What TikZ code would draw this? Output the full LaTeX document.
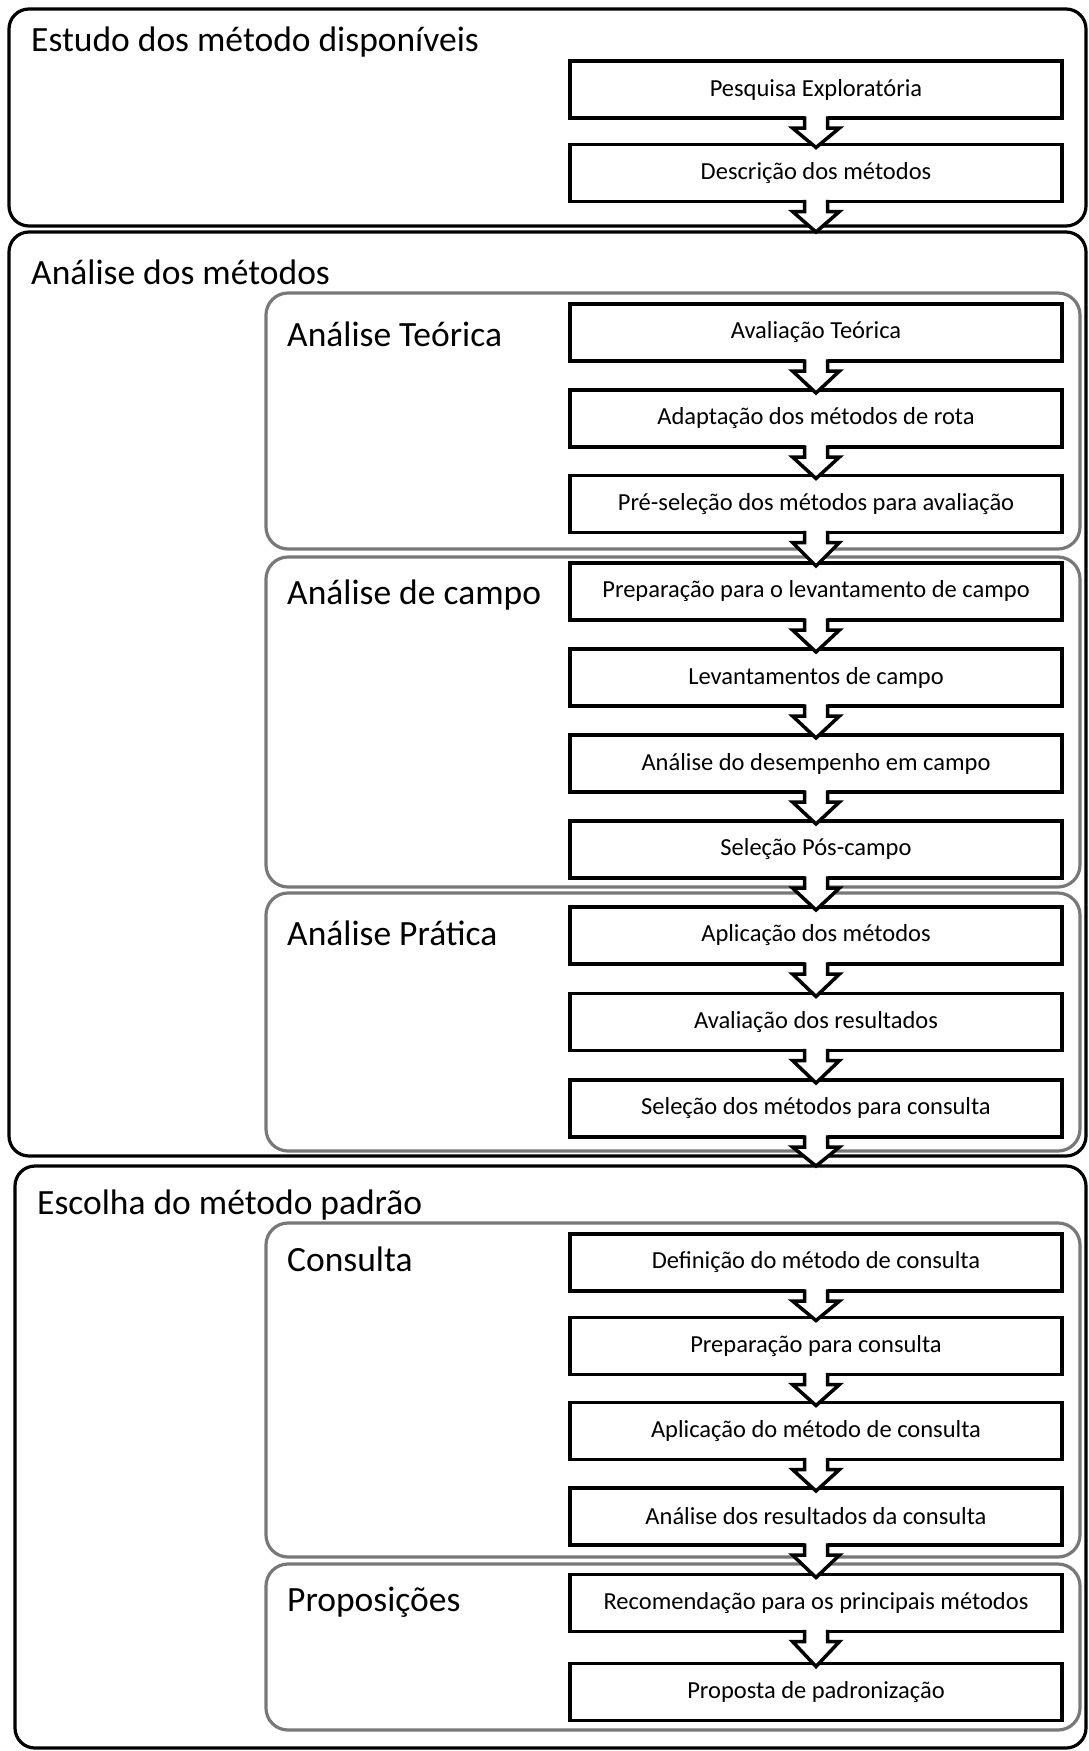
\documentclass[tikz,border=0pt]{standalone}
\usepackage{fontspec}
\setmainfont{Carlito}
\usetikzlibrary{calc}
\definecolor{framegray}{RGB}{120,120,120}
\tikzset{
  outerbox/.style={draw=black, line width=3.2pt, rounded corners=20pt},
  innerbox/.style={draw=framegray, line width=3.2pt, rounded corners=22pt},
  stepbox/.style={draw=black, fill=white, line width=3.4pt, minimum width=492pt,
    minimum height=57pt, inner sep=0pt, outer sep=0pt,
    font=\fontsize{24.5}{28}\selectfont},
  grouptitle/.style={anchor=base west, inner sep=0pt,
    font=\fontsize{35.5}{40}\selectfont},
  arrowline/.style={draw=black, line width=3.5pt, line join=miter, line cap=butt}
}
% block arrow leaving the bottom of step #1 and pointing at #2
\newcommand\flowarrow[2]{%
  \fill[white]
    ($(#1.south)+(-11.5,-1.8)$) -- ($(#1.south)+(-11.5,10)$) --
    ($(#1.south)+(-23.5,10)$) -- ($(#1.south |- #2)+(0,3)$) --
    ($(#1.south)+(23.5,10)$) -- ($(#1.south)+(11.5,10)$) --
    ($(#1.south)+(11.5,-1.8)$) -- cycle;
  \draw[arrowline]
    ($(#1.south)+(-11.5,-1.7)$) -- ($(#1.south)+(-11.5,10)$) --
    ($(#1.south)+(-23.5,10)$) -- ($(#1.south |- #2)+(0,3)$) --
    ($(#1.south)+(23.5,10)$) -- ($(#1.south)+(11.5,10)$) --
    ($(#1.south)+(11.5,-1.7)$);
}
\begin{document}
\begin{tikzpicture}[x=1pt, y=-1pt]
  \useasboundingbox (0,0) rectangle (1089,1751);

  % stage frames
  \draw[outerbox] (9,9) rectangle (1086,226);
  \draw[outerbox] (9,232) rectangle (1086,1156);
  \draw[outerbox] (15,1166) rectangle (1086,1748);
  \coordinate (o2entry) at (816,229);
  \coordinate (o3entry) at (816,1163);

  % sub-stage frames
  \draw[innerbox] (266,293) rectangle (1080,549);
  \draw[innerbox] (266,557) rectangle (1080,887);
  \draw[innerbox] (266,893) rectangle (1080,1151);
  \draw[innerbox] (266,1223) rectangle (1080,1557);
  \draw[innerbox] (266,1564) rectangle (1080,1730);

  % titles
  \node[grouptitle] (t1) at (31,51) {Estudo dos método disponíveis};
  \node[grouptitle] (t2) at (31,284) {Análise dos métodos};
  \node[grouptitle] (t3) at (287,346) {Análise Teórica};
  \node[grouptitle] (t4) at (287,604) {Análise de campo};
  \node[grouptitle] (t5) at (287,945) {Análise Prática};
  \node[grouptitle] (t6) at (37,1214) {Escolha do método padrão};
  \node[grouptitle] (t7) at (287,1271) {Consulta};
  \node[grouptitle] (t8) at (287,1611) {Proposições};

  % steps
  \node[stepbox] (s1)  at (816,89.5)   {Pesquisa Exploratória};
  \node[stepbox] (s2)  at (816,173)    {Descrição dos métodos};
  \node[stepbox] (s3)  at (816,332.5)  {Avaliação Teórica};
  \node[stepbox] (s4)  at (816,418.5)  {Adaptação dos métodos de rota};
  \node[stepbox] (s5)  at (816,504)    {Pré-seleção dos métodos para avaliação};
  \node[stepbox] (s6)  at (816,591.5)  {Preparação para o levantamento de campo};
  \node[stepbox] (s7)  at (816,677.5)  {Levantamentos de campo};
  \node[stepbox] (s8)  at (816,763.5)  {Análise do desempenho em campo};
  \node[stepbox] (s9)  at (816,849.5)  {Seleção Pós-campo};
  \node[stepbox] (s10) at (816,935.5)  {Aplicação dos métodos};
  \node[stepbox] (s11) at (816,1022)   {Avaliação dos resultados};
  \node[stepbox] (s12) at (816,1108.5) {Seleção dos métodos para consulta};
  \node[stepbox] (s13) at (816,1262.5) {Definição do método de consulta};
  \node[stepbox] (s14) at (816,1346)   {Preparação para consulta};
  \node[stepbox] (s15) at (816,1431)   {Aplicação do método de consulta};
  \node[stepbox] (s16) at (816,1516.5) {Análise dos resultados da consulta};
  \node[stepbox] (s17) at (816,1603)   {Recomendação para os principais métodos};
  \node[stepbox] (s18) at (816,1692)   {Proposta de padronização};

  % flow arrows
  \flowarrow{s1}{s2.north}
  \flowarrow{s2}{o2entry}
  \flowarrow{s3}{s4.north}
  \flowarrow{s4}{s5.north}
  \flowarrow{s5}{s6.north}
  \flowarrow{s6}{s7.north}
  \flowarrow{s7}{s8.north}
  \flowarrow{s8}{s9.north}
  \flowarrow{s9}{s10.north}
  \flowarrow{s10}{s11.north}
  \flowarrow{s11}{s12.north}
  \flowarrow{s12}{o3entry}
  \flowarrow{s13}{s14.north}
  \flowarrow{s14}{s15.north}
  \flowarrow{s15}{s16.north}
  \flowarrow{s16}{s17.north}
  \flowarrow{s17}{s18.north}
\end{tikzpicture}
\end{document}
